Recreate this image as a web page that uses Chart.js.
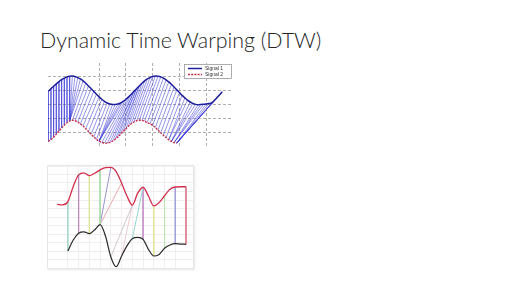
<!DOCTYPE html>
<html>
<head>
<meta charset="utf-8">
<script src="https://cdn.jsdelivr.net/npm/chart.js@4.4.0/dist/chart.umd.min.js"></script>
<style>
  body { margin: 0; width: 520px; height: 292px; background: #fff; position: relative; overflow: hidden; }
  #title { position: absolute; left: 40px; top: 28px; font-family: Lato, sans-serif; font-weight: 300;
           font-size: 21.4px; line-height: 1.2; color: #262626; white-space: nowrap; }
  #c1 { position: absolute; left: 48px; top: 63px; }
  #box2 { position: absolute; left: 47px; top: 165px; width: 145px; height: 102px;
          border: 1px solid #e6e6e6; box-shadow: 1px 1px 2px rgba(0,0,0,0.10); background: #fff; }
</style>
</head>
<body>
<div id="title">Dynamic Time Warping (DTW)</div>
<canvas id="c1" width="185" height="84"></canvas>
<div id="box2"><canvas id="c2" width="145" height="102"></canvas></div>
<script>
// ---- top chart: two signals and their DTW alignment ----
const signal1 = [3.97, 4.15, 4.33, 4.50, 4.66, 4.80, 4.91, 5.00, 5.05, 5.06,
  5.03, 4.95, 4.85, 4.71, 4.54, 4.35, 4.15, 3.95, 3.75, 3.56,
  3.39, 3.24, 3.12, 3.05, 3.01, 3.01, 3.05, 3.12, 3.24, 3.39,
  3.56, 3.75, 3.95, 4.15, 4.35, 4.54, 4.71, 4.85, 4.95, 5.03,
  5.06, 5.05, 5.00, 4.91, 4.79, 4.64, 4.47, 4.27, 4.07, 3.87,
  3.67, 3.49, 3.32, 3.19, 3.09, 3.02, 3.00, 3.01, 3.03, 3.05,
  3.08, 3.12, 3.30, 3.50, 3.72, 3.93];
const signal2 = [0.35, 0.48, 0.66, 0.88, 1.10, 1.32, 1.53, 1.70, 1.83, 1.88,
  1.84, 1.75, 1.62, 1.46, 1.27, 1.07, 0.87, 0.68, 0.51, 0.37,
  0.28, 0.23, 0.23, 0.28, 0.37, 0.51, 0.68, 0.87, 1.07, 1.27,
  1.46, 1.62, 1.75, 1.84, 1.88, 1.87, 1.81, 1.71, 1.62, 1.50,
  1.35, 1.17, 0.98, 0.80, 0.63, 0.47, 0.35, 0.26, 0.23];
// warping path: index into signal1, index into signal2
const pathA = [0,1,2,3,4,5,6,7,8, 9,10,11,12,13, 14,15,16,17,18,19,20,21,22,23,24, 25,26,27,28,
  29,30,31,32,32,33,33,34,34,35,36,37,38,39,40, 41,42,43,44,45,46,47,48,49,50,
  51,52,53,54,55,56,57,58,59,60,61,62,63,64,65];
const pathB = [0,1,2,3,4,5,6,7,8, 8,8,8,8,8, 9,10,11,12,13,14,15,16,17,18,19, 19,19,19,19,
  20,21,22,23,24,25,26,27,28,29,30,31,32,33,34, 35,36,37,38,39,40,41,42,43,44,
  45,45,46,46,46,47,47,47,48,48,48,48,48,48,48];

// ---- bottom chart: two curves with coloured matches ----
const redStart = -1, blackStart = 0, step2 = 0.5;
const redCurve = [7.49, 7.42, 7.80, 9.60, 10.95, 11.20, 10.86, 11.15, 11.55, 11.80, 11.85, 11.35,
  10.00, 8.47, 7.40, 8.80, 9.50, 8.47, 7.30, 7.70, 8.50, 9.26, 9.53, 9.56, 9.56];
const blackCurve = [2.00, 3.30, 4.08, 4.24, 4.04, 4.50, 5.10, 3.76, 1.30, 0.15, 1.41, 2.60,
  3.45, 3.60, 3.37, 2.20, 1.41, 1.60, 2.32, 2.70, 2.86, 2.82, 2.79];
const matchRed   = [0, 1, 2, 3, 4, 5, 6, 6, 7, 7, 8, 9, 10, 11];
const matchBlack = [0, 1, 2, 3, 3, 3, 4, 5, 6, 7, 8, 9, 10, 11];
const matchColors = ['#a8d8ca', '#bc88c0', '#dfe29c', '#a8dca8', '#9494cc', '#eaaab2', '#d0c8cb',
  '#e8ccd4', '#98d6d4', '#c696ca', '#e6e494', '#bce4ae', '#a2a0d8', '#d8808f'];

// build the alignment segments, broken by null gaps
const links = [];
pathA.forEach((a, n) => {
  const b = pathB[n];
  links.push({x: a + 1, y: signal1[a]}, {x: b + 1, y: signal2[b]}, {x: b + 1, y: null});
});

const legendBox = {
  id: 'legendBox',
  afterDraw(chart) {
    const ctx = chart.ctx, area = chart.chartArea;
    const w = 48, h = 15, x = area.right - w - 1, y = area.top + 1;
    ctx.save();
    ctx.fillStyle = '#fff';
    ctx.strokeStyle = '#8a8a8a';
    ctx.lineWidth = 0.7;
    ctx.fillRect(x, y, w, h);
    ctx.strokeRect(x + 0.5, y + 0.5, w - 1, h - 1);
    ctx.font = '5px "Liberation Sans", Arial, sans-serif';
    ctx.textBaseline = 'middle';
    chart.data.datasets.slice(0, 2).forEach((ds, i) => {
      const ry = y + 4.5 + i * 6;
      ctx.strokeStyle = ds.borderColor;
      ctx.lineWidth = ds.borderWidth;
      ctx.setLineDash(ds.borderDash || []);
      ctx.beginPath();
      ctx.moveTo(x + 4, ry);
      ctx.lineTo(x + 18, ry);
      ctx.stroke();
      ctx.setLineDash([]);
      ctx.fillStyle = '#333';
      ctx.fillText(ds.label, x + 21, ry);
    });
    ctx.restore();
  }
};

new Chart(document.getElementById('c1'), {
  type: 'line',
  data: {
    datasets: [
      { label: 'Signal 1', data: signal1.map((v, i) => ({x: i + 1, y: v})),
        borderColor: '#1f1f9e', borderWidth: 1.5, pointRadius: 0, tension: 0.3 },
      { label: 'Signal 2', data: signal2.map((v, i) => ({x: i + 1, y: v})),
        borderColor: '#c8304a', borderWidth: 1.4, borderDash: [2, 1.2], pointRadius: 0, tension: 0.3 },
      { label: 'links', data: links, borderColor: 'rgba(55,55,215,0.7)', borderWidth: 0.75,
        pointRadius: 0, tension: 0, spanGaps: false }
    ]
  },
  options: {
    responsive: false, animation: false, devicePixelRatio: 1,
    layout: { padding: 0 },
    plugins: { legend: { display: false }, tooltip: { enabled: false } },
    scales: {
      x: { type: 'linear', min: 0.9, max: 70,
        ticks: { display: false, stepSize: 10 },
        grid: { drawTicks: false, lineWidth: 0.8,
          color: c => (c.tick.value % 10 === 0 && c.tick.value < 70) ? '#9a9a9a' : 'rgba(0,0,0,0)' },
        border: { display: false, dash: [3, 2] } },
      y: { min: -0.05, max: 6,
        ticks: { display: false, stepSize: 1 },
        grid: { drawTicks: false, lineWidth: 0.8,
          color: c => (Number.isInteger(c.tick.value) && c.tick.value > 0 && c.tick.value < 6) ? '#9a9a9a' : 'rgba(0,0,0,0)' },
        border: { display: false, dash: [3, 2] } }
    }
  },
  plugins: [legendBox]
});

const curveRed = redCurve.map((v, i) => ({x: redStart + i * step2, y: v}));
const curveBlack = blackCurve.map((v, i) => ({x: blackStart + i * step2, y: v}));
const matchSets = matchRed.map((r, n) => ({
  data: [{x: r, y: redCurve[(r - redStart) / step2]},
         {x: matchBlack[n], y: blackCurve[(matchBlack[n] - blackStart) / step2]}],
  borderColor: matchColors[n], borderWidth: 1, pointRadius: 0, tension: 0
}));

new Chart(document.getElementById('c2'), {
  type: 'line',
  data: {
    datasets: [
      { data: curveRed, borderColor: '#d3304e', borderWidth: 1.3, pointRadius: 0, cubicInterpolationMode: 'monotone' },
      { data: curveBlack, borderColor: '#2a2a2a', borderWidth: 1.2, pointRadius: 0, cubicInterpolationMode: 'monotone' },
      ...matchSets
    ]
  },
  options: {
    responsive: false, animation: false, devicePixelRatio: 1,
    layout: { padding: 0 },
    plugins: { legend: { display: false }, tooltip: { enabled: false } },
    scales: {
      x: { type: 'linear', min: -1.85, max: 11.65,
        ticks: { display: false, stepSize: 1 },
        grid: { drawTicks: false, color: c => Number.isInteger(c.tick.value) ? '#f2edef' : 'rgba(0,0,0,0)' },
        border: { display: false } },
      y: { min: 0, max: 12,
        ticks: { display: false, stepSize: 1 },
        grid: { drawTicks: false, color: '#f2edef' },
        border: { display: false } }
    }
  }
});
</script>
</body>
</html>
